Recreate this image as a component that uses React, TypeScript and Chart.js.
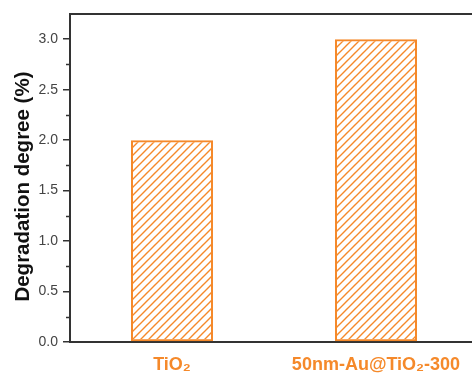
import React, { useEffect, useRef } from "react";
import { Chart, registerables } from "chart.js";

Chart.register(...registerables);

const categories = ["TiO\u2082", "50nm-Au@TiO\u2082-300"];
const degradation = [2.0, 3.0];
const yMajorTicks = [0, 0.5, 1.0, 1.5, 2.0, 2.5, 3.0];
const yMinorTicks = [0.25, 0.75, 1.25, 1.75, 2.25, 2.75];
const yTitle = "Degradation degree (%)";

const ORANGE = "#F5892A";
const AXIS = "#333333";
const FONT = "'Liberation Sans', Arial, sans-serif";

function makeHatch(): CanvasPattern | string {
  const s = 8;
  const c = document.createElement("canvas");
  c.width = s;
  c.height = s;
  const g = c.getContext("2d");
  if (!g) return ORANGE;
  g.strokeStyle = ORANGE;
  g.lineWidth = 1.4;
  g.beginPath();
  g.moveTo(0, s);
  g.lineTo(s, 0);
  g.moveTo(-s / 2, s / 2);
  g.lineTo(s / 2, -s / 2);
  g.moveTo(s / 2, s + s / 2);
  g.lineTo(s + s / 2, s / 2);
  g.stroke();
  const p = g.createPattern(c, "repeat");
  return p || ORANGE;
}

const framePlugin = {
  id: "frame",
  afterDraw(chart: any) {
    const { ctx, chartArea } = chart;
    const y = chart.scales.y;
    ctx.save();
    ctx.strokeStyle = AXIS;
    ctx.lineWidth = 2;
    ctx.beginPath();
    ctx.moveTo(chartArea.left - 1, chartArea.top);
    ctx.lineTo(chartArea.right, chartArea.top);
    ctx.stroke();
    ctx.lineWidth = 1.5;
    ctx.beginPath();
    for (const v of yMinorTicks) {
      const py = Math.round(y.getPixelForValue(v)) + 0.5;
      ctx.moveTo(chartArea.left - 4, py);
      ctx.lineTo(chartArea.left, py);
    }
    ctx.stroke();
    ctx.restore();
  },
};

export default function App() {
  const ref = useRef<HTMLCanvasElement>(null);
  useEffect(() => {
    if (!ref.current) return;
    const hatch = makeHatch();
    const chart = new Chart(ref.current, {
      type: "bar",
      data: {
        labels: categories,
        datasets: [
          {
            data: degradation,
            backgroundColor: hatch as any,
            borderColor: ORANGE,
            borderWidth: 2,
            borderSkipped: false,
            categoryPercentage: 1,
            barPercentage: 0.402,
          },
        ],
      },
      options: {
        animation: false,
        responsive: false,
        layout: { padding: { top: 14, right: 2, left: 0, bottom: 0 } },
        plugins: { legend: { display: false }, tooltip: { enabled: false } },
        scales: {
          x: {
            grid: { display: false },
            border: { display: true, color: AXIS, width: 2 },
            ticks: {
              color: ORANGE,
              padding: 4,
              font: { family: FONT, size: 18, weight: "bold" },
            },
            afterFit(scale: any) {
              scale.height = 32;
            },
          },
          y: {
            min: 0,
            max: 3.25,
            afterBuildTicks(scale: any) {
              scale.ticks = yMajorTicks.map((v) => ({ value: v }));
            },
            grid: {
              display: true,
              drawOnChartArea: false,
              drawTicks: true,
              tickLength: 7,
              color: AXIS,
              lineWidth: 1.5,
            },
            border: { display: true, color: AXIS, width: 2 },
            ticks: {
              color: "#444444",
              padding: 5,
              font: { family: FONT, size: 14 },
              callback: (v: any) => Number(v).toFixed(1),
            },
            title: {
              display: true,
              text: yTitle + "\u00a0\u00a0\u00a0",
              color: "#111111",
              font: { family: FONT, size: 20.5, weight: "bold" },
              padding: { top: 11, bottom: 0 },
            },
            afterFit(scale: any) {
              scale.width = 70;
            },
          },
        },
      },
      plugins: [framePlugin],
    });
    return () => chart.destroy();
  }, []);

  return (
    <div
      style={{
        position: "fixed",
        left: 0,
        top: 0,
        width: 472,
        height: 374,
        overflow: "hidden",
        background: "#fff",
      }}
    >
      <canvas ref={ref} width={480} height={374} style={{ display: "block" }} />
    </div>
  );
}
